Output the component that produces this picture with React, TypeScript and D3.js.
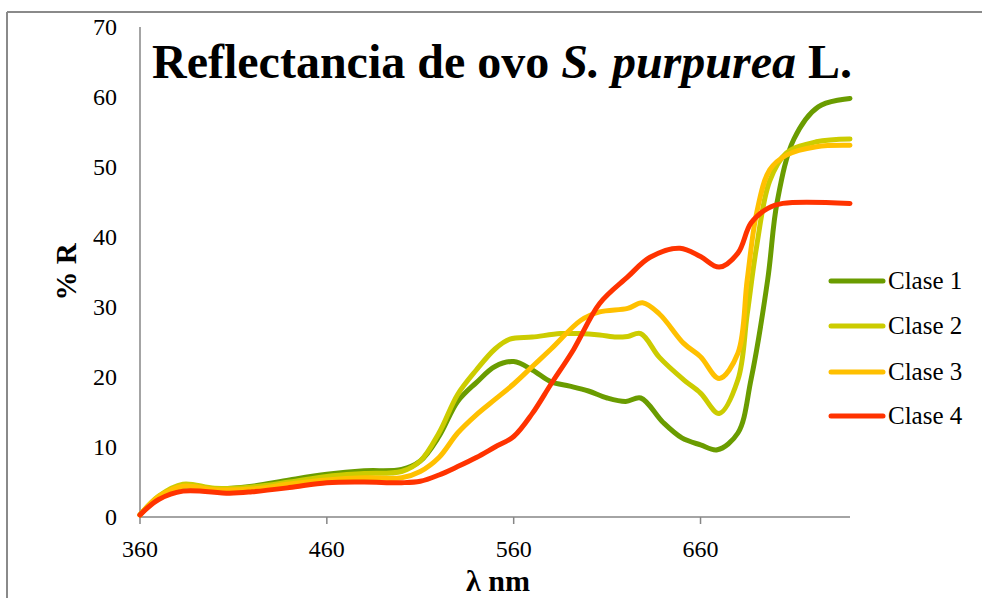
import React from "react";
import * as d3 from "d3";

const wavelengths1 = [360, 370, 383, 400, 420, 440, 460, 480, 500, 510, 520, 530, 540, 550, 560, 570, 580, 590, 600, 610, 620, 628, 640, 650, 660, 669, 680, 687, 696, 701, 710, 723, 740];
const clase1 = [0.3, 2.8, 4.4, 4.0, 4.4, 5.3, 6.1, 6.6, 6.8, 8.0, 11.5, 16.5, 19.2, 21.5, 22.2, 21.0, 19.3, 18.7, 18.0, 17.0, 16.5, 17.0, 13.5, 11.3, 10.3, 9.6, 12.0, 19.6, 34.0, 45.0, 54.0, 58.6, 59.8];

const wavelengths2 = [360, 370, 383, 400, 420, 440, 460, 480, 500, 510, 520, 530, 540, 550, 558, 570, 585, 595, 606, 615, 621, 628, 638, 651, 660, 670, 680, 685, 690, 697, 706, 722, 740];
const clase2 = [0.3, 3.0, 4.7, 4.1, 4.3, 5.0, 5.8, 6.2, 6.5, 8.0, 12.0, 17.5, 21.0, 24.0, 25.4, 25.7, 26.2, 26.2, 26.0, 25.7, 25.8, 26.2, 22.8, 19.6, 17.7, 14.8, 19.6, 29.0, 38.6, 48.0, 52.0, 53.6, 54.0];

const wavelengths3 = [360, 370, 383, 400, 420, 440, 460, 480, 500, 510, 520, 530, 540, 550, 560, 570, 580, 596, 606, 621, 629, 638, 651, 660, 670, 680, 685, 690, 697, 706, 722, 740];
const clase3 = [0.3, 2.9, 4.4, 3.9, 4.0, 4.7, 5.3, 5.6, 5.6, 6.5, 8.5, 12.0, 14.6, 16.8, 19.0, 21.5, 24.0, 28.1, 29.3, 29.8, 30.6, 29.0, 24.8, 22.9, 19.8, 23.4, 33.9, 43.4, 49.6, 51.7, 52.9, 53.1];

const wavelengths4 = [360, 370, 383, 408, 420, 440, 460, 480, 500, 510, 520, 530, 540, 550, 560, 570, 580, 592, 606, 621, 633, 649, 660, 670, 680, 687, 696, 704, 740];
const clase4 = [0.3, 2.5, 3.7, 3.4, 3.6, 4.2, 4.9, 5.0, 4.9, 5.1, 6.0, 7.2, 8.5, 10.0, 11.5, 14.8, 19.0, 23.9, 30.5, 34.3, 37.1, 38.4, 37.2, 35.7, 37.7, 42.0, 44.1, 44.8, 44.8];

const seriesNames = ["Clase 1", "Clase 2", "Clase 3", "Clase 4"];
const seriesColors = ["#6a9c00", "#cccc00", "#ffc000", "#ff3300"];
const xTicks = [360, 460, 560, 660];
const yTicks = [0, 10, 20, 30, 40, 50, 60, 70];

const FONT = "Liberation Serif, Times New Roman, serif";

export default function App() {
  const W = 982;
  const H = 598;
  const x = d3.scaleLinear().domain([360, 740]).range([140, 850]);
  const y = d3.scaleLinear().domain([0, 70]).range([517, 27]);

  const line = d3
    .line<[number, number]>()
    .x((d) => x(d[0]))
    .y((d) => y(d[1]))
    .curve(d3.curveCatmullRom.alpha(0.5));

  const series = [
    wavelengths1.map((w, i) => [w, clase1[i]] as [number, number]),
    wavelengths2.map((w, i) => [w, clase2[i]] as [number, number]),
    wavelengths3.map((w, i) => [w, clase3[i]] as [number, number]),
    wavelengths4.map((w, i) => [w, clase4[i]] as [number, number]),
  ];

  const legendY = [281, 326, 372, 416];

  return (
    <svg width={W} height={H} style={{ position: "absolute", left: 0, top: 0, background: "#fff" }}>
      <rect x={0} y={0} width={W} height={H} fill="#fff" />
      {/* frame */}
      <line x1={7} y1={12} x2={W} y2={12} stroke="#8a8a8a" strokeWidth={2} />
      <line x1={7} y1={12} x2={7} y2={H} stroke="#8a8a8a" strokeWidth={2} />

      {/* axes */}
      <line x1={x(360)} y1={y(70)} x2={x(360)} y2={y(0)} stroke="#868686" strokeWidth={1.5} />
      <line x1={x(360)} y1={y(0)} x2={x(740)} y2={y(0)} stroke="#868686" strokeWidth={1.5} />
      {xTicks.map((t) => (
        <line key={"xt" + t} x1={x(t)} y1={y(0)} x2={x(t)} y2={y(0) + 7} stroke="#868686" strokeWidth={1.5} />
      ))}

      {/* tick labels */}
      {xTicks.map((t) => (
        <text key={"xl" + t} x={x(t)} y={557} textAnchor="middle" fontFamily={FONT} fontSize={24} fill="#000">
          {t}
        </text>
      ))}
      {yTicks.map((t) => (
        <text key={"yl" + t} x={117} y={y(t) + 8} textAnchor="end" fontFamily={FONT} fontSize={24} fill="#000">
          {t}
        </text>
      ))}

      {/* series */}
      {series.map((s, i) => (
        <path
          key={seriesNames[i]}
          d={line(s) || ""}
          fill="none"
          stroke={seriesColors[i]}
          strokeWidth={5}
          strokeLinecap="round"
          strokeLinejoin="round"
        />
      ))}

      {/* title */}
      <text x={152} y={78} fontFamily={FONT} fontSize={48} fontWeight="bold" fill="#000">
        Reflectancia de ovo <tspan fontStyle="italic">S. purpurea</tspan> L.
      </text>

      {/* axis titles */}
      <text
        transform="translate(76,272) rotate(-90)"
        textAnchor="middle"
        fontFamily={FONT}
        fontSize={29}
        fontWeight="bold"
        fill="#000"
      >
        % R
      </text>
      <text x={498} y={591} textAnchor="middle" fontFamily={FONT} fontSize={30} fontWeight="bold" fill="#000">
        λ nm
      </text>

      {/* legend */}
      {seriesNames.map((n, i) => (
        <g key={"lg" + n}>
          <line x1={831} y1={legendY[i]} x2={883} y2={legendY[i]} stroke={seriesColors[i]} strokeWidth={5} strokeLinecap="round" />
          <text x={888} y={legendY[i] + 8} fontFamily={FONT} fontSize={25} fill="#000">
            {n}
          </text>
        </g>
      ))}
    </svg>
  );
}
